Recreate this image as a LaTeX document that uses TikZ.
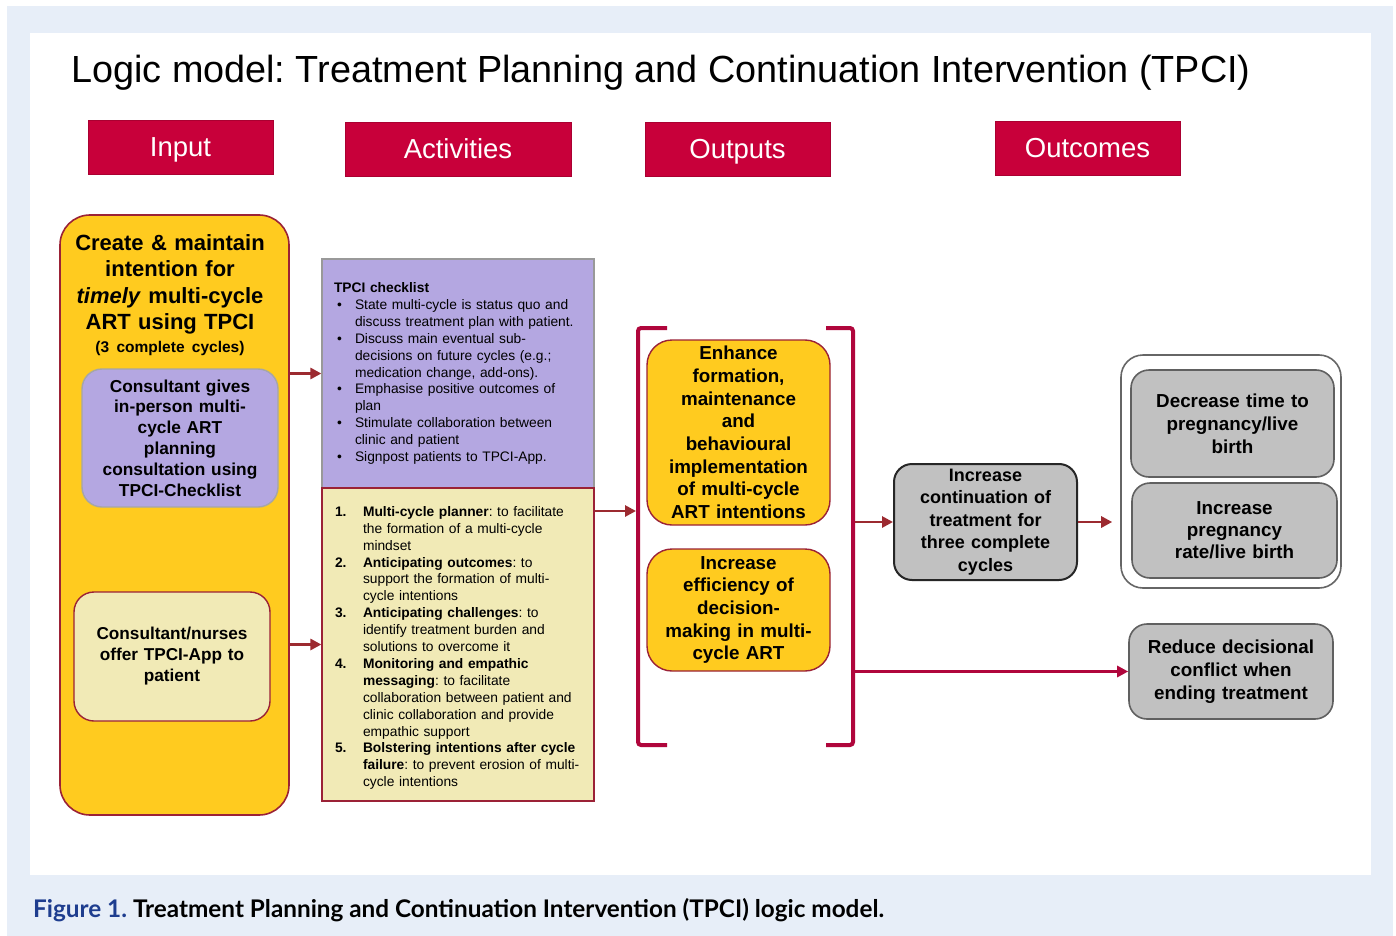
\documentclass[tikz,border=0pt]{standalone}
\usepackage{fontspec}
\setmainfont{Liberation Sans}
\newfontfamily\capfont{Lato}
\usetikzlibrary{arrows.meta,positioning,calc}
\definecolor{hdred}{HTML}{C8003A}
\definecolor{brkred}{HTML}{B0063C}
\definecolor{arrred}{HTML}{9C2A30}
\definecolor{edgered}{HTML}{9B2236}
\definecolor{gold}{HTML}{FFCB1F}
\definecolor{lavender}{HTML}{B4A7E1}
\definecolor{cream}{HTML}{F1EAB6}
\definecolor{boxgray}{HTML}{C1C1C1}
\definecolor{framebg}{HTML}{E7EEF8}
\definecolor{capblue}{HTML}{1E3D8F}
\newcommand{\pxfont}[2]{\fontsize{#1pt}{#2pt}\selectfont}
\newcommand{\chkitem}{\par\noindent\hangindent=21pt\hangafter=1\hbox to 21pt{\hspace{3pt}\textbullet\hfil}}
\newcommand{\stepitem}[1]{\par\noindent\hangindent=28pt\hangafter=1\hbox to 28pt{\bfseries #1\hfil}}
\frenchspacing

\begin{document}
\begin{tikzpicture}[x=1pt,y=-1pt]
	\tikzstyle{every node}=[inner sep=0pt]
	\tikzstyle{hdr}=[draw=hdred!85!black, fill=hdred, minimum width=185pt, minimum height=54pt, text=white, text height=19.5pt, text depth=0pt, font=\pxfont{27.5}{30}]
	\tikzstyle{txt}=[align=center, font=\bfseries]
	\tikzstyle{arr}=[draw=arrred, line width=2.8pt, -{Triangle[length=11pt,width=11pt]}]
	\tikzstyle{brk}=[draw=brkred, line width=4pt, rounded corners=3pt]
	\useasboundingbox (0,0) rectangle (1396,936);
	\fill[white] (0,0) rectangle (1396,936);
	\fill[framebg] (7,6) rectangle (1393,936);
	\fill[white] (30,33) rectangle (1371,875);
	% title and column heads
	\node [anchor=base west, font=\pxfont{37.8}{40}] (title) at (71,83) {Logic model: Treatment Planning and Continuation Intervention (TPCI)};
	\node [hdr] (hInput) at (180.5,147) {Input};
	\node [hdr, minimum width=226pt] (hAct) at (458,149) {Activities};
	\node [hdr] (hOut) at (737.5,149) {Outputs};
	\node [hdr] (hOutc) at (1087.5,148) {Outcomes};
	% input column
	\node [draw=edgered, line width=1.6pt, fill=gold, rounded corners=30pt, minimum width=229pt, minimum height=600pt] (input) at (174.5,515) {};
	\node [txt, text width=220pt, anchor=north, font=\bfseries\pxfont{22}{26.5}] (inTitle) at (170,234) {Create \& maintain\\intention for\\\textit{timely} multi-cycle\\ART using TPCI\\[-3.5pt]{\pxfont{15.5}{20}(3 complete cycles)}};
	\node [draw=gray!70, line width=1.4pt, fill=lavender, rounded corners=20pt, minimum width=196pt, minimum height=138pt, txt, text width=190pt, font=\bfseries\pxfont{17.3}{20.8}] (consult) at (180,438) {Consultant gives\\in-person multi-\\cycle ART\\planning\\consultation using\\TPCI-Checklist};
	\node [draw=edgered, line width=1.4pt, fill=cream, rounded corners=20pt, minimum width=196pt, minimum height=129pt, txt, text width=190pt, font=\bfseries\pxfont{17.2}{21}] (offer) at (172,656.5) {Consultant/nurses\\offer TPCI-App to\\patient};
	% activities column
	\node [draw=gray!80, line width=1.2pt, fill=lavender, minimum width=272pt, minimum height=229pt, inner xsep=12pt, text width=248pt, font=\pxfont{13.8}{16.9}] (chk) at (458,373.5) {%
		{\bfseries TPCI checklist}
		\chkitem State multi-cycle is status quo and\newline discuss treatment plan with patient.
		\chkitem Discuss main eventual sub-\newline decisions on future cycles (e.g.;\newline medication change, add-ons).
		\chkitem Emphasise positive outcomes of\newline plan
		\chkitem Stimulate collaboration between\newline clinic and patient
		\chkitem Signpost patients to TPCI-App.\par};
	\node [draw=edgered, line width=1.2pt, fill=cream, minimum width=272pt, minimum height=313pt, inner xsep=13pt, text width=246pt, font=\pxfont{13.8}{16.9}] (steps) at (458,644.5) {%
		\stepitem{1.}\textbf{Multi-cycle planner}: to facilitate\newline the formation of a multi-cycle\newline mindset
		\stepitem{2.}\textbf{Anticipating outcomes}: to\newline support the formation of multi-\newline cycle intentions
		\stepitem{3.}\textbf{Anticipating challenges}: to\newline identify treatment burden and\newline solutions to overcome it
		\stepitem{4.}\textbf{Monitoring and empathic}\newline \textbf{messaging}: to facilitate\newline collaboration between patient and\newline clinic collaboration and provide\newline empathic support
		\stepitem{5.}\textbf{Bolstering intentions after cycle}\newline \textbf{failure}: to prevent erosion of multi-\newline cycle intentions\par};
	% outputs column
	\draw [brk] (667,328) -- (638,328) -- (638,745) -- (667,745);
	\draw [brk] (826,328) -- (853,328) -- (853,745) -- (826,745);
	\coordinate (lbr) at (636,511);
	\coordinate (rbr) at (855,520);
	\node [draw=edgered, line width=1.4pt, fill=gold, rounded corners=25pt, minimum width=183pt, minimum height=185pt, txt, text width=180pt, font=\bfseries\pxfont{18.8}{22.7}] (enhance) at (738.5,432.5) {Enhance\\formation,\\maintenance\\and\\behavioural\\implementation\\of multi-cycle\\ART intentions};
	\node [draw=edgered, line width=1.4pt, fill=gold, rounded corners=25pt, minimum width=183pt, minimum height=122pt, txt, text width=180pt, font=\bfseries\pxfont{18.8}{22.6}] (effic) at (738.5,610) {Increase\\efficiency of\\decision-\\making in multi-\\cycle ART};
	% outcomes column
	\node [draw=black!85, line width=2pt, fill=boxgray, rounded corners=18pt, minimum width=183pt, minimum height=116pt, txt, text width=180pt, font=\bfseries\pxfont{18}{22.6}] (cont) at (985.5,522) {Increase\\continuation of\\treatment for\\three complete\\cycles};
	\node [draw=gray!80!black, line width=1.6pt, fill=white, rounded corners=22pt, minimum width=220pt, minimum height=233pt] (group) at (1231,471.5) {};
	\node [draw=gray!75!black, line width=1.6pt, fill=boxgray, rounded corners=18pt, minimum width=203pt, minimum height=107pt, txt, text width=200pt, font=\bfseries\pxfont{18.8}{23}] (decr) at (1232.5,423.5) {Decrease time to\\pregnancy/live\\birth};
	\node [draw=gray!75!black, line width=1.6pt, fill=boxgray, rounded corners=18pt, minimum width=205pt, minimum height=95pt, txt, text width=200pt, font=\bfseries\pxfont{18.8}{22}] (preg) at (1234.5,530.5) {Increase\\pregnancy\\rate/live birth};
	\node [draw=gray!75!black, line width=1.6pt, fill=boxgray, rounded corners=18pt, minimum width=204pt, minimum height=95pt, txt, text width=200pt, font=\bfseries\pxfont{18.8}{23}] (reduce) at (1231,671.5) {Reduce decisional\\conflict when\\ending treatment};
	% connectors
	\draw [arr] (input.east |- chk.west) -- (chk.west);
	\draw [arr] (input.east |- steps.west) -- (steps.west);
	\draw [arr] (steps.east |- lbr) -- (lbr);
	\draw [arr] (rbr |- cont.west) -- (cont.west);
	\draw [arr, shorten >=8pt] (cont.east) -- (cont.east -| group.west);
	\draw [arr, draw=brkred] (rbr |- reduce.west) -- (reduce.west);
	% caption
	\node [anchor=base west, font=\capfont\bfseries\pxfont{24.3}{26}] (caption) at (33,917) {\textcolor{capblue}{Figure 1.}\hspace{6pt}Treatment Planning and Continuation Intervention (TPCI) logic model.};
\end{tikzpicture}
\end{document}
